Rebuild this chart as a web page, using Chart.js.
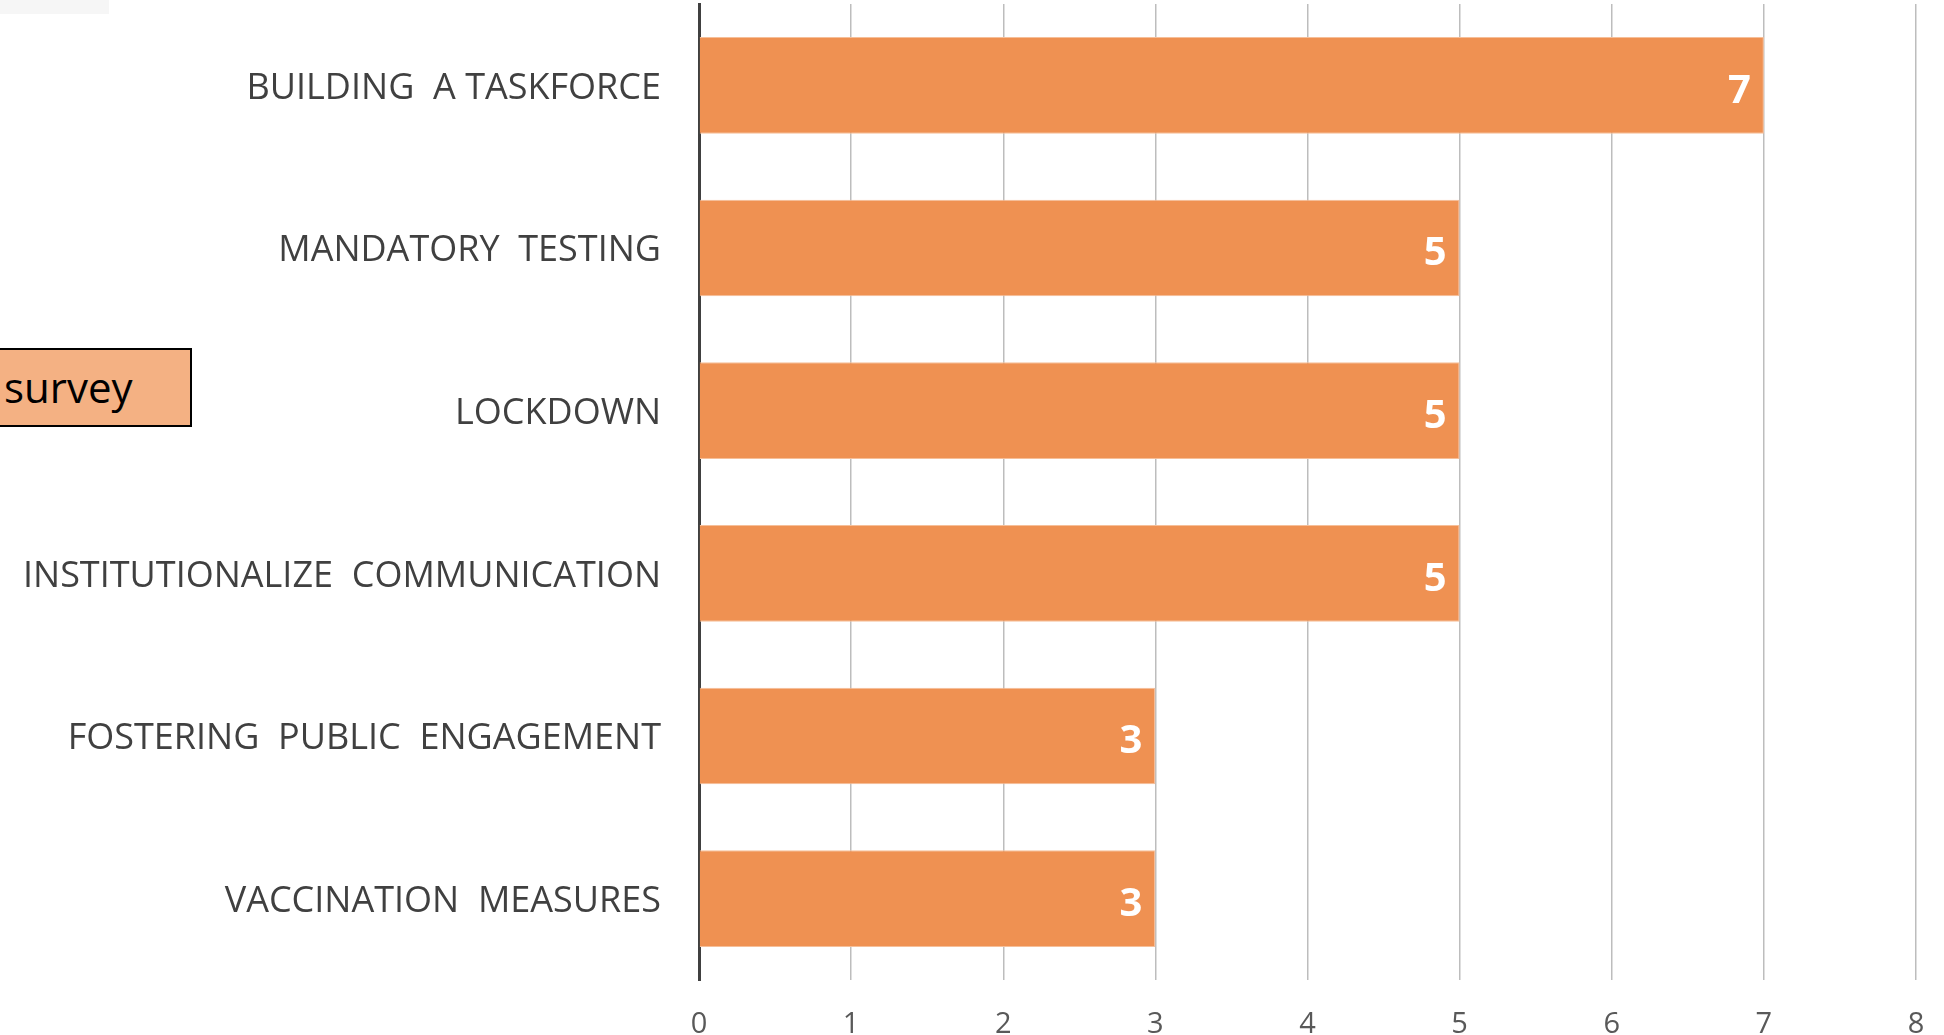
<!DOCTYPE html>
<html>
<head>
<meta charset="utf-8">
<script src="https://cdn.jsdelivr.net/npm/chart.js@4"></script>
<style>
  html, body { margin: 0; padding: 0; background: #fff; }
  #wrap { position: relative; width: 1944px; height: 1035px; }
  #corner { position: absolute; left: 0; top: 0; width: 109px; height: 14px; background: #f6f6f6; }
  #survey {
    position: absolute; left: -2px; top: 348px; width: 194px; height: 79px;
    background: #f4b183; border: 2px solid #000; box-sizing: border-box;
    font-family: "Open Sans", sans-serif; font-size: 42px; color: #000;
    line-height: 74px; padding-left: 4px;
  }
</style>
</head>
<body>
<div id="wrap">
  <canvas id="measuresChart" width="1944" height="1035"></canvas>
  <div id="corner"></div>
  <div id="survey">survey</div>
</div>
<script>
// Data
var categories = ['BUILDING  A TASKFORCE', 'MANDATORY  TESTING', 'LOCKDOWN',
  'INSTITUTIONALIZE  COMMUNICATION', 'FOSTERING  PUBLIC  ENGAGEMENT', 'VACCINATION  MEASURES'];
var counts = [7, 5, 5, 5, 3, 3];
var xTicks = [0, 1, 2, 3, 4, 5, 6, 7, 8];

// Label angka putih di ujung batang
var valueLabels = {
  id: 'valueLabels',
  afterDatasetsDraw: function(chart) {
    var ctx = chart.ctx;
    var meta = chart.getDatasetMeta(0);
    ctx.save();
    ctx.fillStyle = '#ffffff';
    ctx.font = 'bold 40px "Open Sans"';
    ctx.textAlign = 'right';
    ctx.textBaseline = 'middle';
    meta.data.forEach(function(bar, i) {
      ctx.fillText(String(counts[i]), bar.x - 13, bar.y + 6);
    });
    ctx.restore();
  }
};

var ctx = document.getElementById('measuresChart').getContext('2d');
var measuresChart = new Chart(ctx, {
  type: 'bar',
  data: {
    labels: categories,
    datasets: [{
      data: counts,
      backgroundColor: '#ef9152',
      borderColor: '#f6bf99',
      borderWidth: 1,
      borderSkipped: 'start',
      categoryPercentage: 1,
      barPercentage: 0.594
    }]
  },
  options: {
    indexAxis: 'y',
    responsive: false,
    animation: false,
    layout: { padding: { top: 4, right: 28, left: 0, bottom: 0 } },
    scales: {
      x: {
        min: 0,
        max: 8,
        afterBuildTicks: function(scale) {
          scale.ticks = xTicks.map(function(v) { return { value: v }; });
        },
        afterFit: function(scale) {
          scale.height = 55;
          scale.paddingLeft = 0;
          scale.paddingRight = 0;
        },
        grid: { color: '#bdbdbd', lineWidth: 1.5, drawTicks: false },
        border: { display: false },
        ticks: {
          color: '#595959',
          font: { family: 'Open Sans', size: 29 },
          padding: 27,
          maxRotation: 0
        }
      },
      y: {
        afterFit: function(scale) {
          scale.width = 699;
          scale.paddingTop = 0;
          scale.paddingBottom = 0;
        },
        grid: { display: false, drawTicks: false },
        border: { display: true, color: '#404040', width: 3 },
        ticks: {
          color: '#404040',
          font: { family: 'Open Sans', size: 36 },
          padding: 38,
          labelOffset: 3
        }
      }
    },
    plugins: {
      legend: { display: false },
      tooltip: { enabled: false }
    }
  },
  plugins: [valueLabels]
});
</script>
</body>
</html>
